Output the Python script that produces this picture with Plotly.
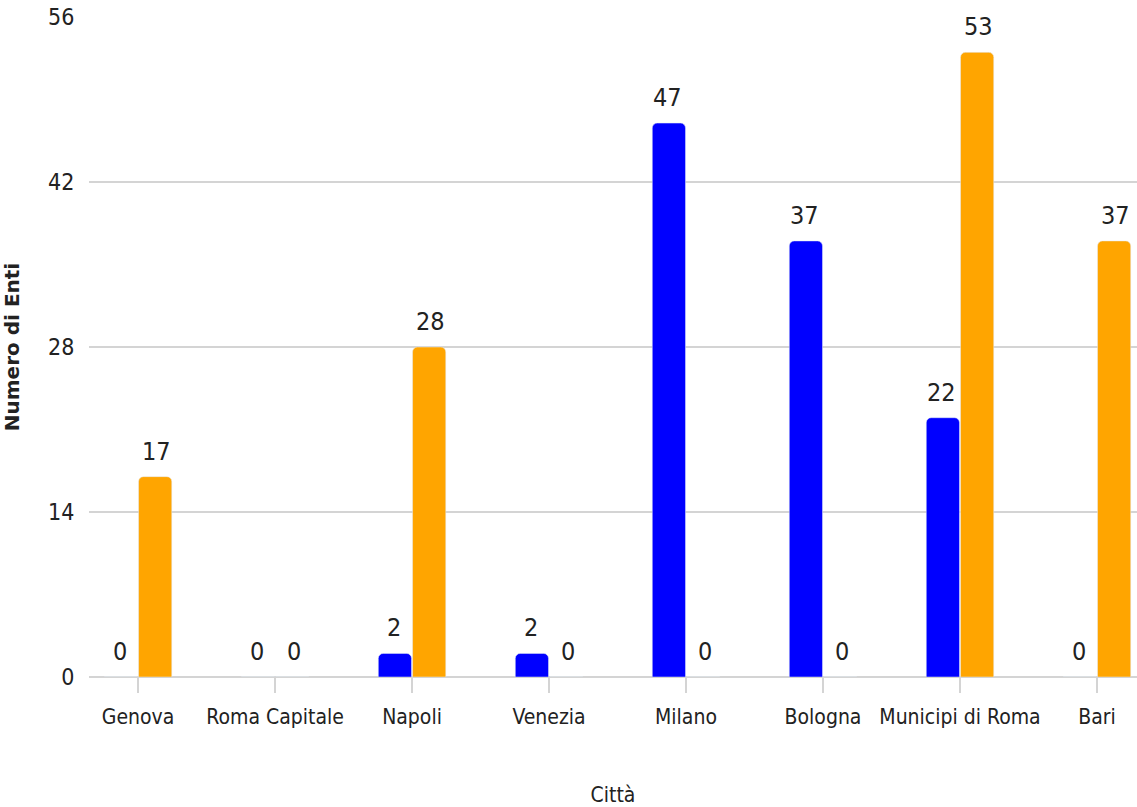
import plotly.graph_objects as go

categories = ["Genova", "Roma Capitale", "Napoli", "Venezia", "Milano", "Bologna", "Municipi di Roma", "Bari"]
blue_values = [0, 0, 2, 2, 47, 37, 22, 0]
orange_values = [17, 0, 28, 0, 0, 0, 53, 37]
y_ticks = [0, 14, 28, 42, 56]

FONT = "DejaVu Sans Condensed, sans-serif"

fig = go.Figure()
fig.add_trace(go.Bar(x=categories, y=blue_values, marker_color="#0000FF", name="Serie 1"))
fig.add_trace(go.Bar(x=categories, y=orange_values, marker_color="#FFA500", name="Serie 2"))

annotations = []
for i, (b, o) in enumerate(zip(blue_values, orange_values)):
    for val, off in ((b, -0.132), (o, 0.138)):
        annotations.append(dict(x=i + off, y=val, xref="x", yref="y", text=str(val),
                                showarrow=False, yanchor="bottom", yshift=9,
                                font=dict(family=FONT, size=25, color="#222222")))

fig.update_layout(
    width=1137, height=807,
    margin=dict(l=89, r=0, t=17, b=130),
    paper_bgcolor="white", plot_bgcolor="white",
    barmode="group", bargap=0.5, bargroupgap=0.03,
    barcornerradius=5,
    showlegend=False,
    annotations=annotations,
    font=dict(family=FONT, size=20, color="#333333"),
)
fig.update_xaxes(
    type="category", range=[-0.358, 7.292],
    ticks="outside", ticklen=15, tickwidth=2, tickcolor="#d4d4d4",
    ticklabelstandoff=6,
    showline=False, showgrid=False,
    tickfont=dict(family=FONT, size=21, color="#222222"),
    title=dict(text="Città", standoff=62, font=dict(family=FONT, size=21, color="#222222")),
)
fig.update_yaxes(
    range=[0, 56], tickvals=y_ticks, ticktext=[str(v) for v in y_ticks],
    showgrid=True, gridcolor="#d4d4d4", gridwidth=2,
    zeroline=True, zerolinecolor="#d4d4d4", zerolinewidth=2,
    ticks="outside", ticklen=9, tickcolor="rgba(0,0,0,0)",
    tickfont=dict(family=FONT, size=23, color="#222222"),
    title=dict(text="Numero di Enti", standoff=24,
               font=dict(family="DejaVu Sans", size=20, color="#222222", weight="bold")),
)

fig.write_html("out.html")
